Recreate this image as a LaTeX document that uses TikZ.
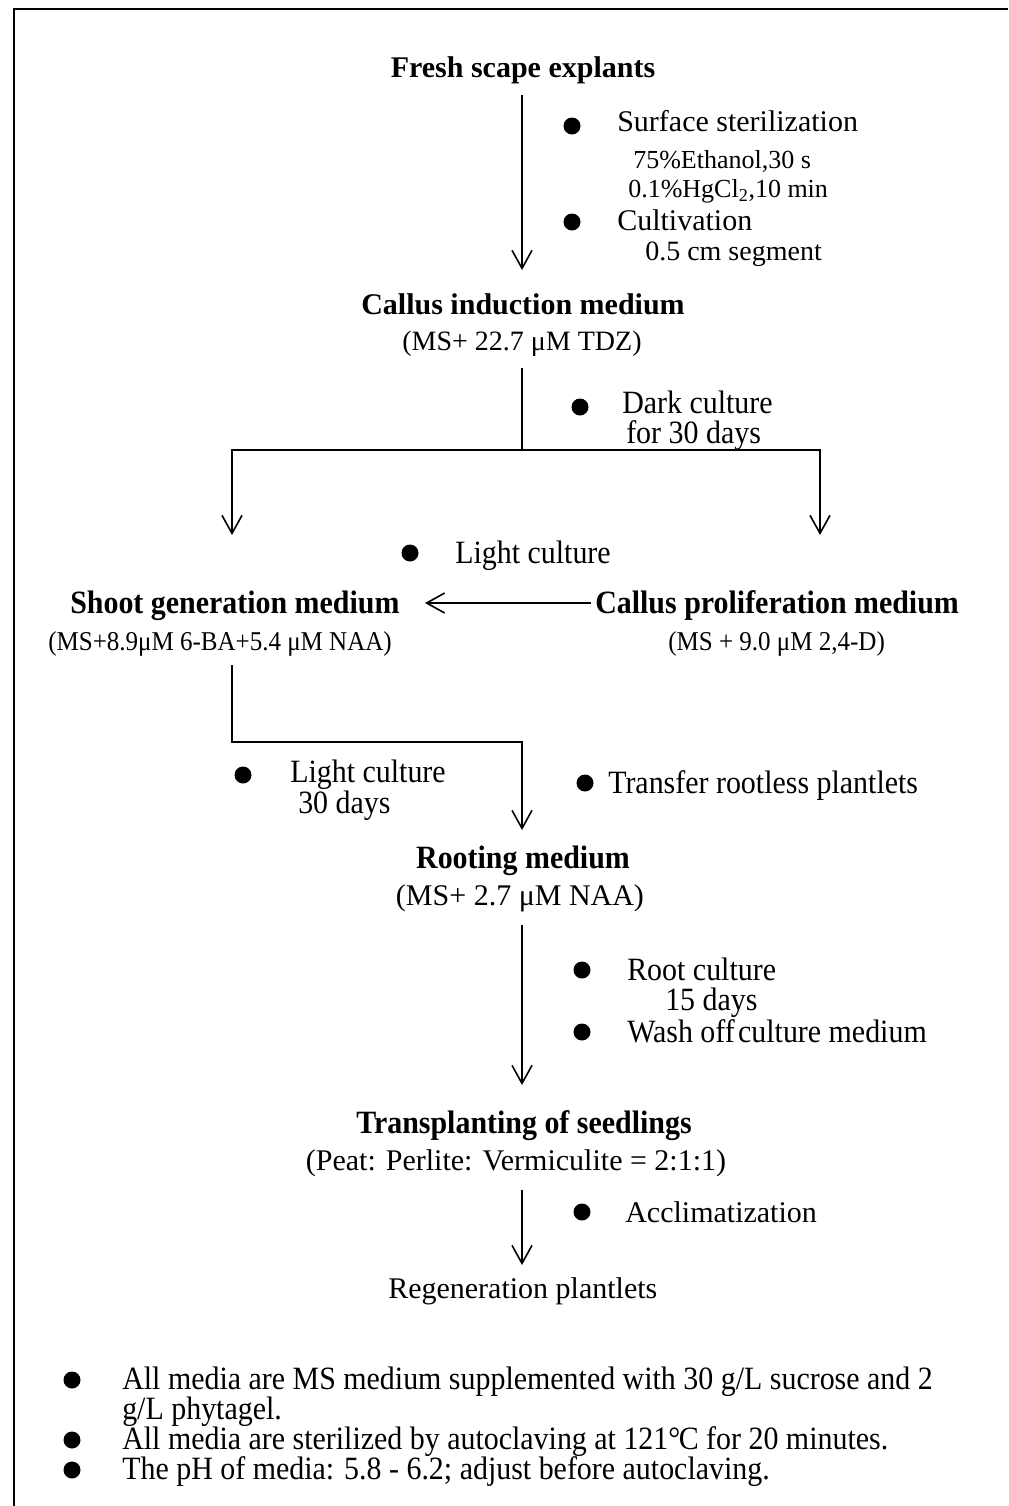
\documentclass[tikz,border=0pt]{standalone}
\usepackage{fontspec}
\setmainfont{Liberation Serif}
\newfontfamily\condfont[FakeStretch=0.92]{Liberation Serif}
\usetikzlibrary{arrows.meta}
\begin{document}
\begin{tikzpicture}[x=0.75pt,y=-0.75pt,
  txt/.style={inner sep=0pt, font=\fontsize{22.5}{24}\selectfont},
  ctxt/.style={inner sep=0pt, font=\condfont\fontsize{24.4}{25}\selectfont},
  ctwo/.style={inner sep=0pt, align=left, font=\condfont\fontsize{24.4}{21}\selectfont},
  hd/.style={inner sep=0pt, font=\fontsize{22.5}{24}\selectfont\bfseries},
  chd/.style={inner sep=0pt, font=\condfont\fontsize{24.4}{25}\selectfont\bfseries},
  sub/.style={inner sep=0pt, font=\fontsize{19.5}{21}\selectfont},
  subm/.style={inner sep=0pt, font=\fontsize{21}{22}\selectfont},
  subs/.style={inner sep=0pt, font=\condfont\fontsize{20.4}{21}\selectfont},
  dot/.style={circle, fill=black, inner sep=0pt, minimum size=12.75pt},
  conn/.style={line width=1.2pt},
  arr/.style={conn, -{Straight Barb[length=13.5pt,width=15pt,line width=1.2pt]}},
  frameline/.style={line width=1.6pt}]
\useasboundingbox (0,0) rectangle (1008,1506);
% frame
\coordinate (fr1) at (1008,9);
\coordinate (fr2) at (14,9);
\coordinate (fr3) at (14,1506);
\draw[frameline] (fr1) -- (fr2) -- (fr3);

% step 1
\node[hd, anchor=base] (fresh) at (523,77) {Fresh scape explants};
\node[dot] (b1) at (572,126) {};
\node[txt, anchor=base west] (surf) at (617,131) {Surface sterilization};
\node[sub, anchor=base west] (eth) at (633,168) {75\%Ethanol,30 s};
\node[sub, anchor=base west] (hg) at (628,197) {0.1\%HgCl\textsubscript{2},10 min};
\node[dot] (b2) at (572,222) {};
\node[txt, anchor=base west] (cult) at (617,230) {Cultivation};
\node[subm, anchor=base west] (seg) at (645,260) {0.5 cm segment};
\coordinate (a1s) at (522,95);
\coordinate (a1e) at (522,270);
\draw[arr] (a1s) -- (a1e);

% callus induction
\node[hd, anchor=base] (ind) at (523,314) {Callus induction medium};
\node[subm, anchor=base] (indm) at (522,350) {(MS+ 22.7 μM TDZ)};
\node[dot] (b3) at (580,407) {};
\node[ctwo, anchor=base west, font=\condfont\fontsize{24.4}{22.5}\selectfont] (dark) at (622,443) {Dark culture\\\hspace*{3pt}for 30 days};
\coordinate (s1) at (522,368);
\coordinate (j1) at (522,450);
\coordinate (jl) at (232,450);
\coordinate (jr) at (820,450);
\coordinate (el) at (232,535);
\coordinate (er) at (820,535);
\draw[conn] (s1) -- (j1);
\draw[arr] (j1) -- (jl) -- (el);
\draw[arr] (j1) -- (jr) -- (er);

% shoot / proliferation
\node[dot] (b4) at (410,553) {};
\node[ctxt, anchor=base west] (light1) at (455,563) {Light culture};
\node[chd, anchor=base west] (shoot) at (70,613) {Shoot generation medium};
\node[chd, anchor=base west] (prol) at (595,613) {Callus proliferation medium};
\node[subs, anchor=base west] (shootm) at (48,650) {(MS+8.9μM 6-BA+5.4 μM NAA)};
\node[subs, anchor=base west] (prolm) at (668,650) {(MS + 9.0 μM 2,4-D)};
\coordinate (h1) at (591,603);
\coordinate (h2) at (425,603);
\draw[arr] (h1) -- (h2);

% to rooting
\coordinate (r1) at (232,665);
\coordinate (r2) at (232,742);
\coordinate (r3) at (522,742);
\coordinate (r4) at (522,830);
\draw[arr] (r1) -- (r2) -- (r3) -- (r4);
\node[dot] (b5) at (243,775) {};
\node[ctwo, anchor=base west] (light2) at (290,813) {Light culture\\\hspace*{6pt}30 days};
\node[dot] (b6) at (585,783) {};
\node[ctxt, anchor=base west] (transfer) at (608,793) {Transfer rootless plantlets};

% rooting
\node[chd, anchor=base] (root) at (523,868) {Rooting medium};
\node[txt, anchor=base] (rootm) at (520,905) {(MS+ 2.7 μM NAA)};
\coordinate (q1) at (522,925);
\coordinate (q2) at (522,1085);
\draw[arr] (q1) -- (q2);
\node[dot] (b7) at (582,970) {};
\node[ctxt, anchor=base west] (rc) at (627,980) {Root culture};
\node[ctxt, anchor=base west] (rc2) at (665,1010) {15 days};
\node[dot] (b8) at (582,1032) {};
\node[ctxt, anchor=base west] (wash) at (627,1042) {Wash off\hspace{0.1em}culture medium};

% transplanting
\node[chd, anchor=base] (trans) at (524,1133) {Transplanting of seedlings};
\node[txt, anchor=base] (peat) at (516,1170) {(Peat: Perlite: Vermiculite = 2:1:1)};
\coordinate (t1) at (522,1190);
\coordinate (t2) at (522,1265);
\draw[arr] (t1) -- (t2);
\node[dot] (b9) at (582,1212) {};
\node[txt, anchor=base west] (accl) at (625,1222) {Acclimatization};
\node[txt, anchor=base west] (regen) at (388,1298) {Regeneration plantlets};

% notes
\node[dot] (n1) at (72,1380) {};
\node[ctwo, anchor=base west, font=\condfont\fontsize{24.4}{22.5}\selectfont] (note1) at (122,1419) {All media are MS medium supplemented with 30 g/L sucrose and 2\\g/L phytagel.};
\node[dot] (n2) at (72,1440) {};
\node[ctxt, anchor=base west] (note2) at (122,1449) {All media are sterilized by autoclaving at 121°\kern-0.05em C for 20 minutes.};
\node[dot] (n3) at (72,1470) {};
\node[ctxt, anchor=base west] (note3) at (122,1479) {The pH of media: 5.8 - 6.2; adjust before autoclaving.};
\end{tikzpicture}
\end{document}
